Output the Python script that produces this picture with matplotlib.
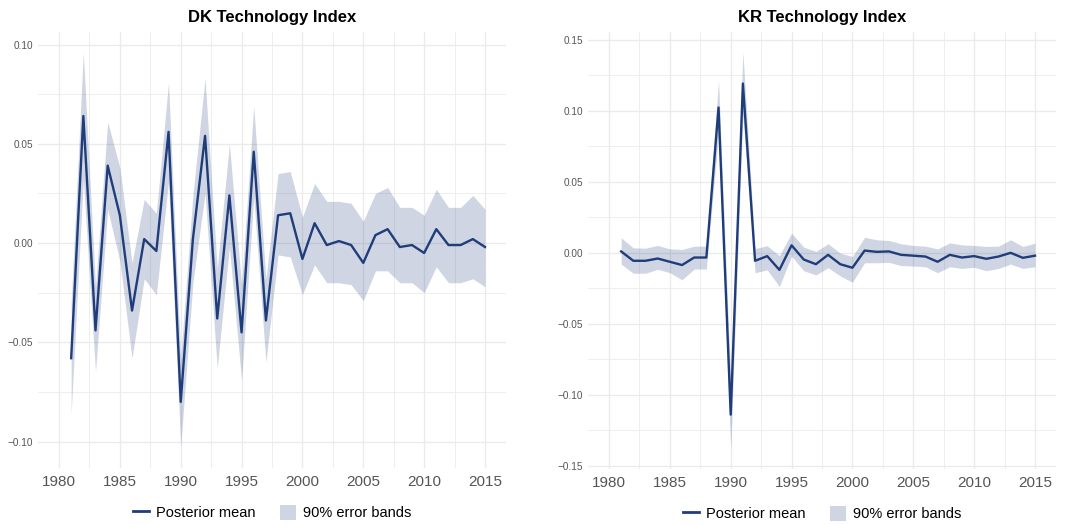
import matplotlib
matplotlib.use("Agg")
import matplotlib.pyplot as plt
from matplotlib.patches import Patch
from matplotlib.lines import Line2D
from matplotlib.ticker import MultipleLocator, FuncFormatter

plt.rcParams['font.family'] = ['Liberation Sans', 'DejaVu Sans']

years = list(range(1981, 2016))

# DK: posterior mean and 90% bands
dk_mean = [-0.058, 0.064, -0.044, 0.039, 0.014, -0.034, 0.002, -0.004, 0.056, -0.080,
           0.002, 0.054, -0.038, 0.024, -0.045, 0.046, -0.039, 0.014, 0.015, -0.008,
           0.010, -0.001, 0.001, -0.001, -0.010, 0.004, 0.007, -0.002, -0.001, -0.005,
           0.007, -0.001, -0.001, 0.002, -0.002]
dk_upper = [-0.030, 0.096, -0.022, 0.061, 0.038, -0.010, 0.022, 0.015, 0.081, -0.058,
            0.024, 0.083, -0.013, 0.050, -0.021, 0.069, -0.018, 0.035, 0.036, 0.013,
            0.030, 0.021, 0.021, 0.020, 0.011, 0.025, 0.028, 0.018, 0.018, 0.014,
            0.027, 0.018, 0.018, 0.024, 0.017]
dk_lower = [-0.086, 0.032, -0.065, 0.017, -0.009, -0.058, -0.018, -0.026, 0.031, -0.1025,
            -0.020, 0.025, -0.063, -0.002, -0.069, 0.023, -0.060, -0.006, -0.007, -0.026,
            -0.011, -0.020, -0.020, -0.021, -0.029, -0.014, -0.014, -0.020, -0.020, -0.025,
            -0.012, -0.020, -0.020, -0.018, -0.022]

# KR: posterior mean and 90% bands
kr_mean = [0.001, -0.0056, -0.0056, -0.004, -0.0063, -0.0086, -0.0033, -0.0033, 0.1024, -0.114,
           0.1193, -0.0056, -0.0023, -0.012, 0.0053, -0.0047, -0.008, -0.0014, -0.008, -0.0105,
           0.0016, 0.0007, 0.001, -0.0014, -0.002, -0.0026, -0.0063, -0.0014, -0.0033, -0.0023,
           -0.0042, -0.0026, 0.0, -0.0035, -0.002]
kr_upper = [0.0106, 0.0035, 0.0033, 0.0052, 0.0028, 0.0024, 0.0047, 0.0047, 0.1216, -0.090,
            0.1416, 0.003, 0.005, -0.002, 0.0139, 0.004, 0.001, 0.0064, -0.0002, -0.0026,
            0.011, 0.0092, 0.0087, 0.0064, 0.0052, 0.0047, 0.0028, 0.007, 0.0056, 0.0052,
            0.0045, 0.0047, 0.0092, 0.0045, 0.0068]
kr_lower = [-0.0079, -0.0144, -0.0144, -0.0116, -0.014, -0.019, -0.0114, -0.0114, 0.084, -0.138,
            0.097, -0.014, -0.012, -0.0237, -0.0023, -0.0126, -0.0156, -0.0105, -0.0163, -0.0207,
            -0.007, -0.007, -0.0067, -0.009, -0.0093, -0.0098, -0.014, -0.0098, -0.011, -0.0102,
            -0.0126, -0.011, -0.0079, -0.011, -0.0098]

line_col = "#1f3d7a"
grid_col = "#ebebeb"

fig = plt.figure(figsize=(10.65, 5.25), dpi=100)
ax_dk = fig.add_axes([37.7 / 1065, 57 / 525, 468.6 / 1065, 436 / 525])
ax_kr = fig.add_axes([587.7 / 1065, 56 / 525, 468.6 / 1065, 437 / 525])


def draw_panel(ax, title, mean, lower, upper, ylim, ystep):
    ax.fill_between(years, lower, upper, color=line_col, alpha=0.21, linewidth=0)
    ax.plot(years, mean, color=line_col, linewidth=1.7)
    ax.set_xlim(1978.25, 2016.75)
    ax.set_ylim(*ylim)
    ax.xaxis.set_major_locator(MultipleLocator(5))
    ax.xaxis.set_minor_locator(MultipleLocator(2.5))
    ax.yaxis.set_major_locator(MultipleLocator(ystep))
    ax.yaxis.set_minor_locator(MultipleLocator(ystep / 2))
    ax.yaxis.set_major_formatter(FuncFormatter(lambda v, p: f"{v:.2f}".replace("-", "\u2212")))
    ax.grid(which="major", color=grid_col, linewidth=1.0)
    ax.grid(which="minor", color=grid_col, linewidth=0.6)
    ax.set_axisbelow(True)
    for s in ax.spines.values():
        s.set_visible(False)
    ax.tick_params(which="both", length=0)
    ax.tick_params(axis="y", labelsize=7.2, labelcolor="#555555", pad=3.5)
    ax.tick_params(axis="x", labelsize=11, labelcolor="#555555", pad=5)
    ax.set_title(title, fontsize=12, fontweight="bold", pad=7)
    handles = [Line2D([], [], color=line_col, linewidth=2),
               Patch(facecolor=line_col, alpha=0.21, edgecolor="none")]
    ax.legend(handles, ["Posterior mean", "90% error bands"], loc="center",
              bbox_to_anchor=(0.5, -0.102), ncol=2, frameon=False, fontsize=10.5,
              handlelength=1.1, handleheight=1.2, handletextpad=0.45, columnspacing=1.7)


draw_panel(ax_dk, "DK Technology Index", dk_mean, dk_lower, dk_upper, (-0.1133, 0.1063), 0.05)
draw_panel(ax_kr, "KR Technology Index", kr_mean, kr_lower, kr_upper, (-0.1523, 0.1556), 0.05)

fig.savefig("out.png", dpi=100)
